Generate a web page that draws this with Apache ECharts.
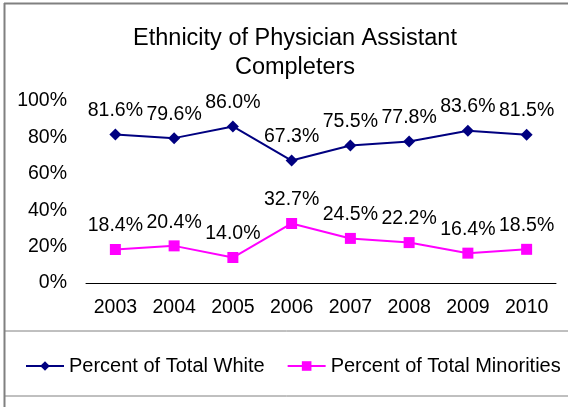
<!DOCTYPE html>
<html>
<head>
<meta charset="utf-8">
<script src="https://cdn.jsdelivr.net/npm/echarts@6/dist/echarts.min.js"></script>
<style>
  html, body { margin: 0; padding: 0; background: #fff; }
  #chart { width: 568px; height: 407px; }
</style>
</head>
<body>
<div id="chart"></div>
<script>
var years = ['2003', '2004', '2005', '2006', '2007', '2008', '2009', '2010'];
var pctWhite = [81.6, 79.6, 86.0, 67.3, 75.5, 77.8, 83.6, 81.5];
var pctMinorities = [18.4, 20.4, 14.0, 32.7, 24.5, 22.2, 16.4, 18.5];
var yTicks = [0, 20, 40, 60, 80, 100];

var font = 'Liberation Sans, Arial, sans-serif';
var chart = echarts.init(document.getElementById('chart'));

function pctLabel(p) {
  return p.value.toFixed(1) + '%';
}

var option = {
  animation: false,
  textStyle: { fontFamily: font },
  title: {
    text: 'Ethnicity of Physician Assistant\nCompleters',
    left: 290,
    textAlign: 'center',
    top: 19,
    textStyle: { fontFamily: font, fontSize: 23.5, fontWeight: 'normal', color: '#000', lineHeight: 29 }
  },
  grid: { left: 86, right: 12, top: 101, bottom: 124, containLabel: false },
  xAxis: {
    type: 'category',
    data: years,
    boundaryGap: true,
    axisLine: { lineStyle: { color: '#000', width: 1 } },
    axisTick: { show: false },
    axisLabel: { color: '#000', fontSize: 19.5, fontFamily: font, margin: 15, interval: 0 }
  },
  yAxis: {
    type: 'value',
    min: yTicks[0],
    max: yTicks[yTicks.length - 1],
    interval: 20,
    axisLine: { show: false },
    axisTick: { show: false },
    splitLine: { show: false },
    axisLabel: {
      color: '#000', fontSize: 19.5, fontFamily: font, margin: 19,
      formatter: function (v) { return v + '%'; }
    }
  },
  legend: {
    left: 20,
    top: 351,
    itemWidth: 38,
    itemHeight: 12,
    itemGap: 22,
    textStyle: { color: '#000', fontSize: 20, fontFamily: font },
    data: ['Percent of Total White', 'Percent of Total Minorities']
  },
  graphic: [
    { type: 'line', shape: { x1: 4.5, y1: 3, x2: 4.5, y2: 407 }, style: { stroke: '#808080', lineWidth: 2 } },
    { type: 'line', shape: { x1: 4, y1: 3.5, x2: 568, y2: 3.5 }, style: { stroke: '#808080', lineWidth: 2 } },
    { type: 'line', shape: { x1: 5, y1: 331, x2: 568, y2: 331 }, style: { stroke: '#808080', lineWidth: 1 } },
    { type: 'line', shape: { x1: 5, y1: 396, x2: 568, y2: 396 }, style: { stroke: '#808080', lineWidth: 1 } }
  ],
  series: [
    {
      name: 'Percent of Total White',
      type: 'line',
      data: pctWhite,
      symbol: 'diamond',
      symbolSize: 12,
      lineStyle: { color: '#000080', width: 2 },
      itemStyle: { color: '#000080' },
      label: {
        show: true, position: 'top', distance: 8,
        color: '#000', fontSize: 19.5, fontFamily: font,
        formatter: pctLabel
      }
    },
    {
      name: 'Percent of Total Minorities',
      type: 'line',
      data: pctMinorities,
      symbol: 'rect',
      symbolSize: 11,
      lineStyle: { color: '#FF00FF', width: 2 },
      itemStyle: { color: '#FF00FF' },
      label: {
        show: true, position: 'top', distance: 8,
        color: '#000', fontSize: 19.5, fontFamily: font,
        formatter: pctLabel
      }
    }
  ]
};

chart.setOption(option);
</script>
</body>
</html>
